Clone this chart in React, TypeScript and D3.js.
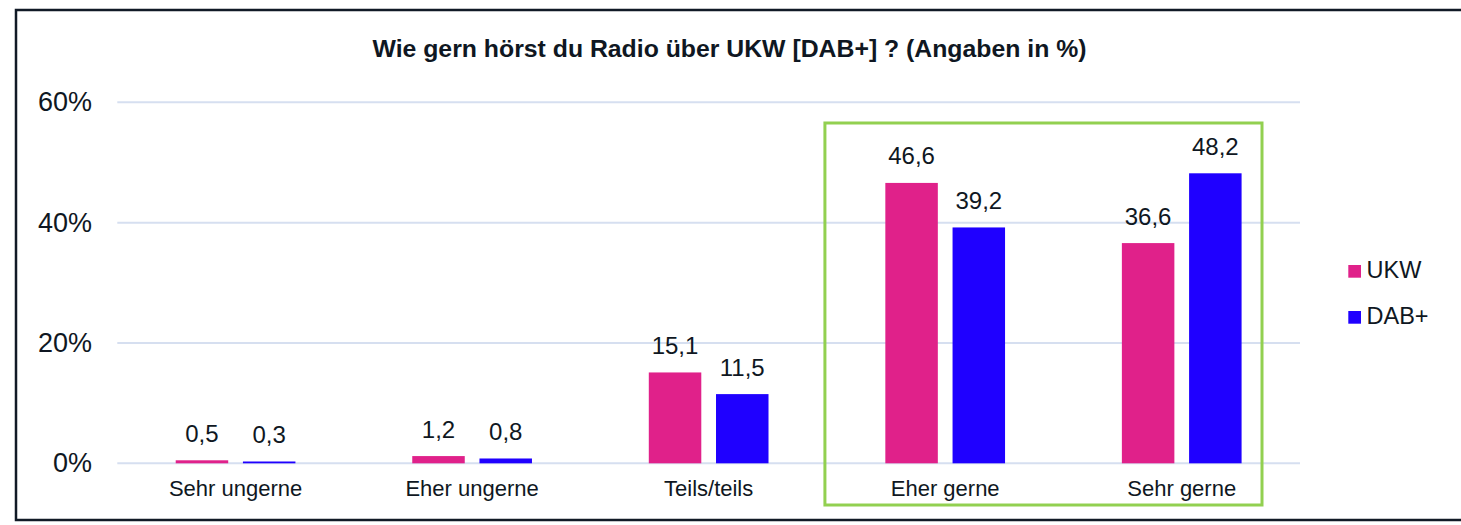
import { useEffect, useRef } from 'react'
import * as d3 from 'd3'

const categories = ['Sehr ungerne', 'Eher ungerne', 'Teils/teils', 'Eher gerne', 'Sehr gerne']
const seriesNames = ['UKW', 'DAB+']
const ukwValues = [0.5, 1.2, 15.1, 46.6, 36.6]
const dabValues = [0.3, 0.8, 11.5, 39.2, 48.2]
const yTicks = [0, 20, 40, 60]
const highlighted = ['Eher gerne', 'Sehr gerne']

const TITLE = 'Wie gern hörst du Radio über UKW [DAB+] ? (Angaben in %)'

const colors = {
  text: '#0f1722',
  grid: '#d6dff0',
  border: '#111a26',
  highlight: '#92d050',
  series: { UKW: '#e0218a', 'DAB+': '#1f00ff' } as Record<string, string>,
}
const FONT = '"Liberation Sans", Arial, sans-serif'

export default function App() {
  const ref = useRef<SVGSVGElement>(null)

  useEffect(() => {
    if (!ref.current) return
    d3.select(ref.current).selectAll('*').remove()
    render(ref.current)
  }, [])

  return (
    <svg
      ref={ref}
      width={1461}
      height={525}
      style={{ position: 'absolute', left: 0, top: 0, display: 'block', background: '#fff' }}
    />
  )
}

function render(el: SVGSVGElement) {
  const W = 1461
  const H = 525
  const plot = { left: 117.3, right: 1300, top: 102.3, bottom: 463.3 }

  const svg = d3.select(el).attr('viewBox', `0 0 ${W} ${H}`).style('font-family', FONT)

  // outer frame (right edge runs off the picture)
  svg.append('rect')
    .attr('x', 16)
    .attr('y', 10)
    .attr('width', 1470)
    .attr('height', 510)
    .attr('fill', '#fff')
    .attr('stroke', colors.border)
    .attr('stroke-width', 2.5)

  const x0 = d3.scaleBand().domain(categories).range([plot.left, plot.right]).padding(0)
  const x1 = d3
    .scaleBand()
    .domain(seriesNames)
    .range([0, x0.bandwidth()])
    .paddingInner(0.219)
    .paddingOuter(0.869)
  const y = d3.scaleLinear().domain([0, 60]).range([plot.bottom, plot.top])

  // Title
  svg.append('text')
    .attr('x', 729.5)
    .attr('y', 57)
    .attr('text-anchor', 'middle')
    .attr('font-size', 24.8)
    .attr('font-weight', 'bold')
    .attr('fill', colors.text)
    .text(TITLE)

  // Grid
  svg.append('g')
    .selectAll('line')
    .data(yTicks)
    .join('line')
    .attr('x1', plot.left)
    .attr('x2', plot.right)
    .attr('y1', (d) => y(d))
    .attr('y2', (d) => y(d))
    .attr('stroke', colors.grid)
    .attr('stroke-width', 2)

  // Y tick labels
  svg.append('g')
    .selectAll('text')
    .data(yTicks)
    .join('text')
    .attr('x', 92)
    .attr('y', (d) => y(d) + 9)
    .attr('text-anchor', 'end')
    .attr('font-size', 27)
    .attr('fill', colors.text)
    .text((d) => `${d}%`)

  // Bars + value labels
  const valuesBySeries: Record<string, number[]> = { UKW: ukwValues, 'DAB+': dabValues }
  const fmt = (v: number) => v.toFixed(1).replace('.', ',')
  seriesNames.forEach((s) => {
    const vals = valuesBySeries[s]
    categories.forEach((c, i) => {
      const bx = x0(c)! + x1(s)!
      const bw = x1.bandwidth()
      const by = y(vals[i])
      svg.append('rect')
        .attr('x', bx)
        .attr('y', by)
        .attr('width', bw)
        .attr('height', plot.bottom - by)
        .attr('fill', colors.series[s])
      svg.append('text')
        .attr('x', bx + bw / 2)
        .attr('y', by - 18.5)
        .attr('text-anchor', 'middle')
        .attr('font-size', 24)
        .attr('fill', colors.text)
        .text(fmt(vals[i]))
    })
  })

  // Category labels
  svg.append('g')
    .selectAll('text')
    .data(categories)
    .join('text')
    .attr('x', (d) => x0(d)! + x0.bandwidth() / 2)
    .attr('y', 496)
    .attr('text-anchor', 'middle')
    .attr('font-size', 22)
    .attr('fill', colors.text)
    .text((d) => d)

  // Highlight box around the "gerne" groups
  const hx0 = x0(highlighted[0])! - 2
  const hx1 = x0(highlighted[highlighted.length - 1])! + x0.bandwidth() - 38
  svg.append('rect')
    .attr('x', hx0)
    .attr('y', 123)
    .attr('width', hx1 - hx0)
    .attr('height', 382)
    .attr('fill', 'none')
    .attr('stroke', colors.highlight)
    .attr('stroke-width', 3)

  // Legend
  seriesNames.forEach((s, i) => {
    const ly = 265 + i * 46
    svg.append('rect')
      .attr('x', 1348.3)
      .attr('y', ly)
      .attr('width', 12.7)
      .attr('height', 12.7)
      .attr('fill', colors.series[s])
    svg.append('text')
      .attr('x', 1366.5)
      .attr('y', ly + 13)
      .attr('font-size', 23.5)
      .attr('fill', colors.text)
      .text(s)
  })
}
